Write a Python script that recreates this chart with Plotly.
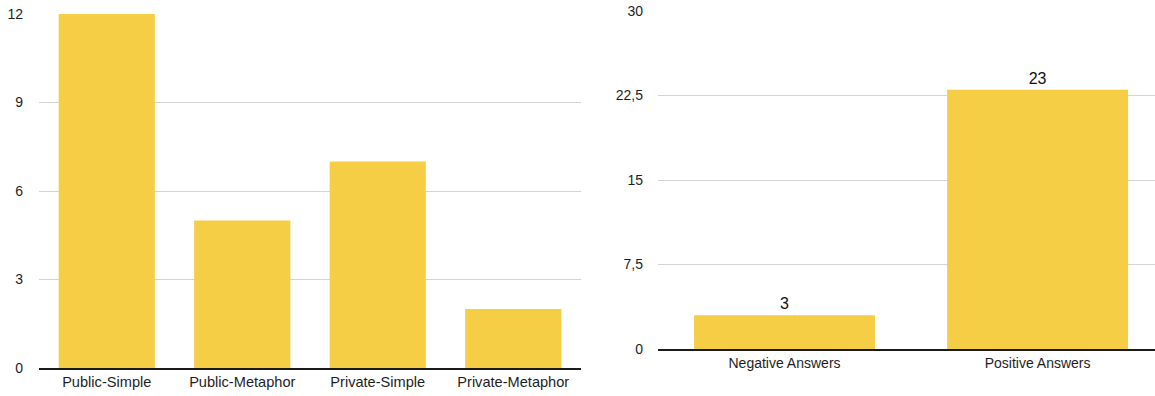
import plotly.graph_objects as go
from plotly.subplots import make_subplots

# Left panel: counts per condition
conditions = ["Public-Simple", "Public-Metaphor", "Private-Simple", "Private-Metaphor"]
condition_counts = [12, 5, 7, 2]
left_ticks = [0, 3, 6, 9, 12]
left_tick_text = ["0", "3", "6", "9", "12"]

# Right panel: answer polarity
answers = ["Negative Answers", "Positive Answers"]
answer_counts = [3, 23]
answer_labels = ["3", "23"]
right_ticks = [0, 7.5, 15, 22.5, 30]
right_tick_text = ["0", "7,5", "15", "22,5", "30"]

W, H = 1155, 396
BAR = "#F6CE46"
FONT = "Liberation Sans, Arial, Helvetica, sans-serif"
GRID = "#d4d4d4"
INK = "#1e1e1e"

fig = make_subplots(rows=1, cols=2)

fig.add_trace(go.Bar(x=conditions, y=condition_counts, marker=dict(color=BAR, line_width=0),
                     width=0.71, hoverinfo="skip"), row=1, col=1)
fig.add_trace(go.Bar(x=answers, y=answer_counts, marker=dict(color=BAR, line_width=0),
                     width=0.715, text=answer_labels, textposition="outside",
                     textfont=dict(size=16, color="#111", family=FONT),
                     cliponaxis=False, hoverinfo="skip"), row=1, col=2)

axis_common = dict(showgrid=False, showline=True, linecolor="#1a1a1a", linewidth=1.5,
                   ticks="", automargin=False, fixedrange=True)
fig.update_xaxes(**axis_common)
fig.update_xaxes(domain=[39 / W, 581 / W], range=[-0.5, 3.5],
                 tickfont=dict(size=14.6, color=INK, family=FONT), row=1, col=1)
fig.update_xaxes(domain=[658 / W, 1.0], range=[-0.5, 1.464],
                 tickfont=dict(size=14, color=INK, family=FONT), row=1, col=2)

yaxis_common = dict(showgrid=True, gridcolor=GRID, gridwidth=1, zeroline=False, showline=False,
                    ticks="", automargin=False, fixedrange=True)
fig.update_yaxes(**yaxis_common)
fig.update_yaxes(domain=[(H - 368) / H, (H - 14) / H], range=[0, 12],
                 tickvals=left_ticks, ticktext=left_tick_text, ticklabelstandoff=15,
                 tickfont=dict(size=14, color=INK, family=FONT), row=1, col=1)
fig.update_yaxes(domain=[(H - 349) / H, (H - 11) / H], range=[0, 30],
                 tickvals=right_ticks, ticktext=right_tick_text, ticklabelstandoff=14,
                 tickfont=dict(size=14, color=INK, family=FONT), row=1, col=2)

fig.update_layout(width=W, height=H, margin=dict(l=0, r=0, t=0, b=0),
                  paper_bgcolor="white", plot_bgcolor="white", showlegend=False,
                  bargap=0.29, font=dict(family=FONT))

fig.write_html("out.html", config={"displayModeBar": False})
